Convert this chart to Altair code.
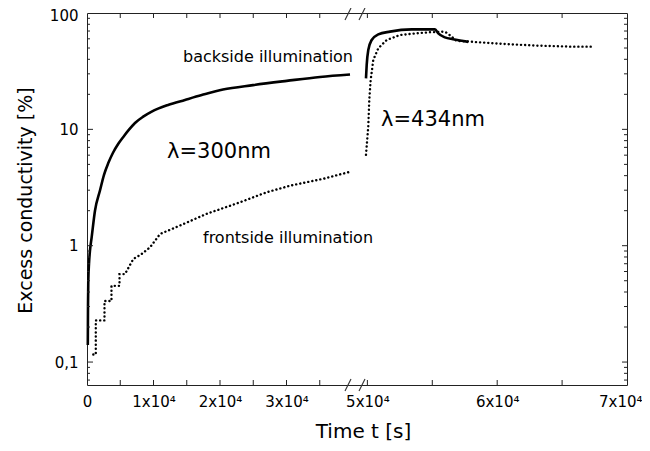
import altair as alt
import pandas as pd

# ---- data ----
back300_t = [120, 150, 195, 300, 450, 700, 1200, 1950, 2556, 3200, 3910, 4707, 5459, 6316,
             7218, 8451, 9729, 12180, 14737, 17250, 20450, 24960, 30030, 35040, 39550]
back300_v = [0.14, 0.30, 0.50, 0.70, 0.91, 1.18, 2.0, 2.98, 4.07, 5.13, 6.29, 7.51, 8.61, 9.94,
             11.35, 12.85, 14.2, 16.2, 17.9, 19.7, 22.0, 24.0, 26.1, 28.2, 29.6]

front300_t = [947, 1323, 1323, 2210, 2630, 2630, 3460, 3680, 3680, 4470, 4890, 4890, 5710,
              6960, 8230, 9470, 10980, 13980, 18000, 23010, 27020, 30530, 35530, 39290]
front300_v = [0.116, 0.116, 0.228, 0.228, 0.228, 0.335, 0.335, 0.335, 0.452, 0.452, 0.452,
              0.57, 0.57, 0.768, 0.85, 0.968, 1.26, 1.49, 1.88, 2.36, 2.88, 3.28, 3.76, 4.28]

back434_t = [49892, 49946, 50069, 50331, 50840, 51741, 53413, 55208, 55462, 55978, 56595,
             57134, 57773]
back434_v = [27.4, 35.6, 48.0, 58.6, 65.5, 69.2, 72.3, 72.3, 66.8, 61.7, 59.5, 58.0, 56.5]

front434_t = [49892, 50069, 50146, 50254, 50455, 50840, 51487, 52512, 53798, 54823, 55847,
              56109, 56495, 56880, 57904, 60470, 63043, 65609, 67404]
front434_v = [6.04, 10.6, 17.9, 26.6, 39.5, 49.8, 58.6, 64.7, 66.9, 68.3, 69.1, 67.8, 62.6,
              57.5, 56.7, 54.2, 52.4, 51.4, 51.4]

x_label_values = [0, 10000, 20000, 30000, 50000, 60000, 70000]
x_tick_values = [5000, 10000, 15000, 20000, 25000, 30000, 35000, 50000, 55000, 60000, 65000]
y_label_values = [0.1, 1, 10, 100]
y_major_ticks = [0.1, 1, 10]
y_minor_ticks = [0.07, 0.08, 0.09, 0.2, 0.3, 0.4, 0.5, 0.6, 0.7, 0.8, 0.9,
                 2, 3, 4, 5, 6, 7, 8, 9, 20, 30, 40, 50, 60, 70, 80, 90]

annot_t = [27220, 30230]
annot_v = [41.9, 1.17]
annot_text = ["backside illumination", "frontside illumination"]
lam_t = [19850, 55054]
lam_v = [6.4, 12.0]
lam_text = ["λ=300nm", "λ=434nm"]
# axis-break marks: start/end time of each slash (one on each side of the break)
break_t1 = [38800, 49354]
break_t2 = [39700, 49816]

W, H = 540, 372
FONT = "DejaVu Sans"


def frame(t, v, s):
    return pd.DataFrame({"t": t, "v": v, "s": s, "i": list(range(len(t)))})


solid_df = pd.concat([frame(back300_t, back300_v, "b300"), frame(back434_t, back434_v, "b434")])
dot_df = pd.concat([frame(front300_t, front300_v, "f300"), frame(front434_t, front434_v, "f434")])

xscale = alt.Scale(domain=[0, 40000, 49200, 70000], range=[0, 266, 270, W], nice=False, zero=False)
yscale = alt.Scale(type="log", domain=[0.0635, 100], nice=False)

xaxis = alt.Axis(
    values=x_label_values,
    labelExpr="datum.value == 0 ? '0' : format(datum.value / 10000, 'd') + 'x10⁴'",
    ticks=False, tickSize=0, domain=False, grid=False,
    labelPadding=9, labelFontSize=15, labelFont=FONT, labelColor="black",
    labelFlush=False, labelOverlap=False,
    labelAlign={"condition": {"test": "datum.value == 70000", "value": "right"}, "value": "center"},
    labelOffset={"condition": {"test": "datum.value == 70000", "value": 15}, "value": 0},
    title="Time t [s]", titleFont=FONT, titleFontSize=20, titleFontWeight="normal",
    titleColor="black", titleX=276, titleY=46, titleBaseline="middle",
)
yaxis = alt.Axis(
    values=y_label_values,
    labelExpr="datum.value < 0.5 ? '0,1' : format(datum.value, 'd')",
    ticks=False, tickSize=0, domain=False, grid=False,
    labelPadding=9, labelFontSize=15, labelFont=FONT, labelColor="black",
    labelFlush=False, labelOverlap=False,
    labelOffset={"condition": {"test": "datum.value == 100", "value": 2}, "value": 0},
    title="Excess conductivity [%]", titleFont=FONT, titleFontSize=19, titleFontWeight="normal",
    titleColor="black", titleX=-62, titleY=187, titleBaseline="middle",
)

X = alt.X("t:Q", scale=xscale, axis=xaxis)
Y = alt.Y("v:Q", scale=yscale, axis=yaxis)

solid = alt.Chart(solid_df).mark_line(color="black", strokeWidth=2.6, strokeJoin="round",
                                      interpolate="monotone").encode(
    x=X, y=Y, detail="s:N", order="i:Q")

dotted = alt.Chart(dot_df).mark_line(
    color="black", strokeWidth=2.4, strokeDash=[0.1, 4], strokeCap="round"
).encode(x=alt.X("t:Q"), y=alt.Y("v:Q"), detail="s:N", order="i:Q")

yt_major = pd.DataFrame({"v": y_major_ticks})
yt_minor = pd.DataFrame({"v": y_minor_ticks})
xt = pd.DataFrame({"t": x_tick_values})

tick_color = "#222"
ticks = [
    alt.Chart(yt_major).mark_rule(color=tick_color).encode(y="v:Q", x=alt.value(0), x2=alt.value(6)),
    alt.Chart(yt_minor).mark_rule(color=tick_color).encode(y="v:Q", x=alt.value(0), x2=alt.value(3)),
    alt.Chart(yt_major).mark_rule(color=tick_color).encode(y="v:Q", x=alt.value(W), x2=alt.value(W - 5)),
    alt.Chart(yt_minor).mark_rule(color=tick_color).encode(y="v:Q", x=alt.value(W), x2=alt.value(W - 3)),
    alt.Chart(xt).mark_rule(color=tick_color).encode(x="t:Q", y=alt.value(H), y2=alt.value(H - 5)),
    alt.Chart(xt).mark_rule(color=tick_color).encode(x="t:Q", y=alt.value(0), y2=alt.value(5)),
]

brk_df = pd.DataFrame({"t": break_t1, "t2": break_t2})
brk_lo = alt.Chart(brk_df).mark_rule(color="#333", strokeWidth=1.1).encode(
    x="t:Q", x2="t2:Q", y=alt.value(H + 6), y2=alt.value(H - 6))
brk_hi = alt.Chart(brk_df).mark_rule(color="#333", strokeWidth=1.1).encode(
    x="t:Q", x2="t2:Q", y=alt.value(7), y2=alt.value(-5))

annot = alt.Chart(pd.DataFrame({"t": annot_t, "v": annot_v, "txt": annot_text})).mark_text(
    font=FONT, fontSize=16, color="black", baseline="middle", align="center"
).encode(x="t:Q", y="v:Q", text="txt:N")

lam = alt.Chart(pd.DataFrame({"t": lam_t, "v": lam_v, "txt": lam_text})).mark_text(
    font=FONT, fontSize=21, color="black", baseline="middle", align="center"
).encode(x="t:Q", y="v:Q", text="txt:N")

chart = alt.layer(solid, dotted, *ticks, brk_lo, brk_hi, annot, lam).properties(
    width=W, height=H,
    autosize=alt.AutoSizeParams(type="none"),
    padding={"left": 79, "top": 5, "right": 15, "bottom": 58},
    background="white",
).configure_view(stroke="#222", strokeWidth=1)

chart.save("out.html", embed_options={"renderer": "svg", "actions": False})
